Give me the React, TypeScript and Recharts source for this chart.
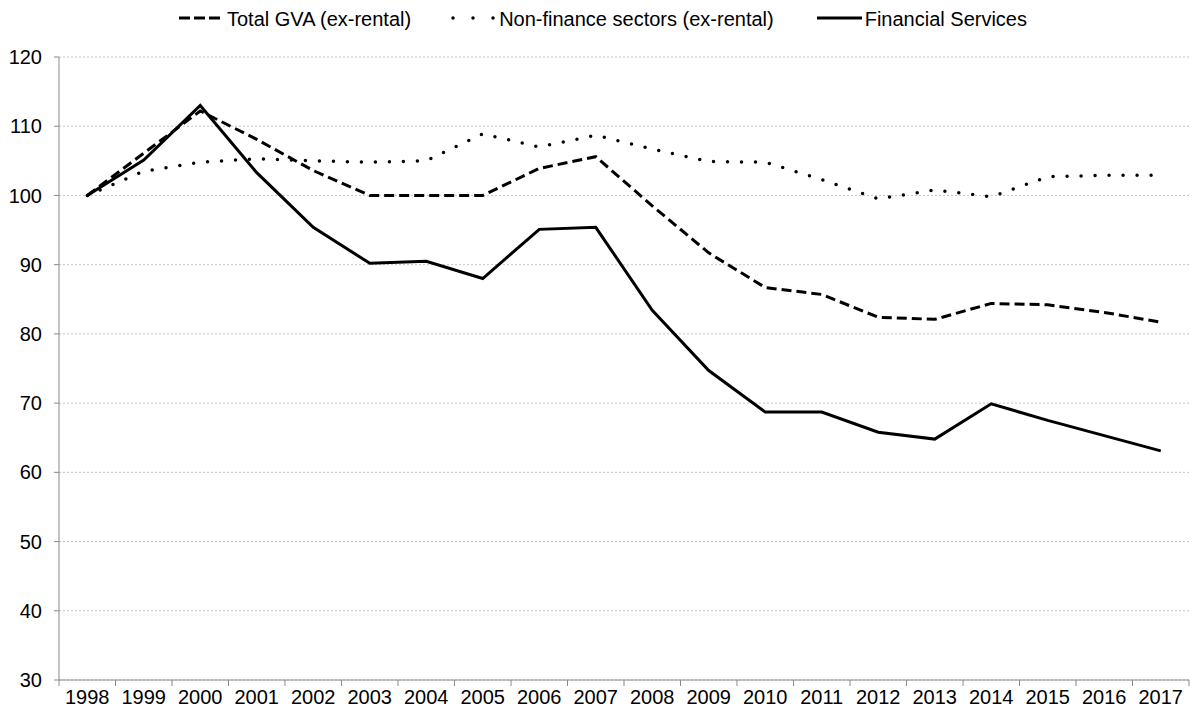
import { LineChart, Line, XAxis, YAxis, CartesianGrid, Legend } from "recharts";

const YEARS = [
  "1998", "1999", "2000", "2001", "2002", "2003", "2004", "2005", "2006", "2007",
  "2008", "2009", "2010", "2011", "2012", "2013", "2014", "2015", "2016", "2017",
];

const TOTAL_GVA = [
  100, 106.1, 112.2, 108.1, 103.6, 100, 100, 100, 103.9, 105.6,
  98.5, 91.7, 86.7, 85.7, 82.4, 82.1, 84.4, 84.2, 83.1, 81.7,
];

const NON_FINANCE = [
  100, 103.5, 104.8, 105.3, 105, 104.8, 105, 108.9, 107, 108.7,
  106.7, 104.9, 104.8, 102.3, 99.5, 100.8, 99.8, 102.7, 102.9, 102.9,
];

const FINANCIAL = [
  100, 105.1, 113, 103.3, 95.4, 90.2, 90.5, 88, 95.1, 95.4,
  83.4, 74.7, 68.7, 68.7, 65.8, 64.8, 69.9, 67.5, 65.3, 63.1,
];

const Y_TICKS = [30, 40, 50, 60, 70, 80, 90, 100, 110, 120];

// legend swatch: length, dash pattern, gap to label, gap after item
const SERIES = [
  { key: "total", name: "Total GVA (ex-rental)", dash: "10 5", legendDash: "11 4", cap: "butt" as const, width: 3, swatch: 42, textGap: 6, after: 40 },
  { key: "nonFinance", name: "Non-finance sectors (ex-rental)", dash: "0 14", legendDash: "0 20", cap: "round" as const, width: 3.5, swatch: 44, textGap: 4, after: 43 },
  { key: "financial", name: "Financial Services", dash: undefined, legendDash: undefined, cap: "butt" as const, width: 3, swatch: 45, textGap: 3, after: 0 },
];

const data = YEARS.map((year, i) => ({
  year,
  total: TOTAL_GVA[i],
  nonFinance: NON_FINANCE[i],
  financial: FINANCIAL[i],
}));

const WIDTH = 1190;
const HEIGHT = 717;
const MARGIN = { top: 0, right: 1, bottom: 0, left: 0 };
const Y_AXIS_W = 59;
const PLOT_W = WIDTH - MARGIN.left - MARGIN.right - Y_AXIS_W;
const HALF_BAND = PLOT_W / YEARS.length / 2;
const AXIS_GREY = "#898989";
const FONT = "'Liberation Sans', Arial, sans-serif";
const FONT_SIZE = 20;

function YearTick(props: any) {
  const { x, y, payload, index } = props;
  const last = index === YEARS.length - 1;
  return (
    <g>
      <line x1={x - HALF_BAND} x2={x - HALF_BAND} y1={y} y2={y + 6} stroke={AXIS_GREY} />
      {last && <line x1={x + HALF_BAND} x2={x + HALF_BAND} y1={y} y2={y + 6} stroke={AXIS_GREY} />}
      <text x={x} y={y + 24} textAnchor="middle" fontSize={FONT_SIZE} fontFamily={FONT} fill="#000">
        {payload.value}
      </text>
    </g>
  );
}

function LegendBox() {
  return (
    <div
      style={{
        display: "flex",
        justifyContent: "flex-start",
        paddingLeft: 179,
        paddingTop: 8,
        fontFamily: FONT,
        fontSize: FONT_SIZE,
        color: "#000",
        lineHeight: "22px",
        whiteSpace: "nowrap",
      }}
    >
      {SERIES.map((s) => (
        <div key={s.key} style={{ display: "flex", alignItems: "center", marginRight: s.after }}>
          <svg width={s.swatch} height={10} style={{ marginRight: s.textGap, marginTop: -3 }}>
            <line
              x1={s.cap === "round" ? 2 : 0}
              x2={s.swatch}
              y1={5}
              y2={5}
              stroke="#000"
              strokeWidth={s.width}
              strokeDasharray={s.legendDash}
              strokeLinecap={s.cap}
            />
          </svg>
          <span>{s.name}</span>
        </div>
      ))}
    </div>
  );
}

export default function App() {
  return (
    <div style={{ position: "absolute", left: 0, top: 0, background: "#fff" }}>
      <LineChart width={WIDTH} height={HEIGHT} data={data} margin={MARGIN}>
        <CartesianGrid vertical={false} stroke="#c4c4c4" strokeDasharray="2 2" />
        <XAxis
          dataKey="year"
          interval={0}
          height={37}
          padding={{ left: HALF_BAND, right: HALF_BAND }}
          tickSize={0}
          tickMargin={0}
          tickLine={false}
          axisLine={{ stroke: AXIS_GREY }}
          tick={<YearTick />}
        />
        <YAxis
          width={Y_AXIS_W}
          domain={[30, 120]}
          ticks={Y_TICKS}
          interval={0}
          tickSize={5}
          tickMargin={12}
          axisLine={{ stroke: AXIS_GREY }}
          tickLine={{ stroke: AXIS_GREY }}
          tick={{ fontSize: FONT_SIZE, fontFamily: FONT, fill: "#000" }}
        />
        <Legend verticalAlign="top" align="left" height={57} content={() => <LegendBox />} />
        {SERIES.map((s) => (
          <Line
            key={s.key}
            type="linear"
            dataKey={s.key}
            name={s.name}
            stroke="#000"
            strokeWidth={s.width}
            strokeDasharray={s.dash}
            strokeLinecap={s.cap}
            dot={false}
            activeDot={false}
            isAnimationActive={false}
          />
        ))}
      </LineChart>
    </div>
  );
}
